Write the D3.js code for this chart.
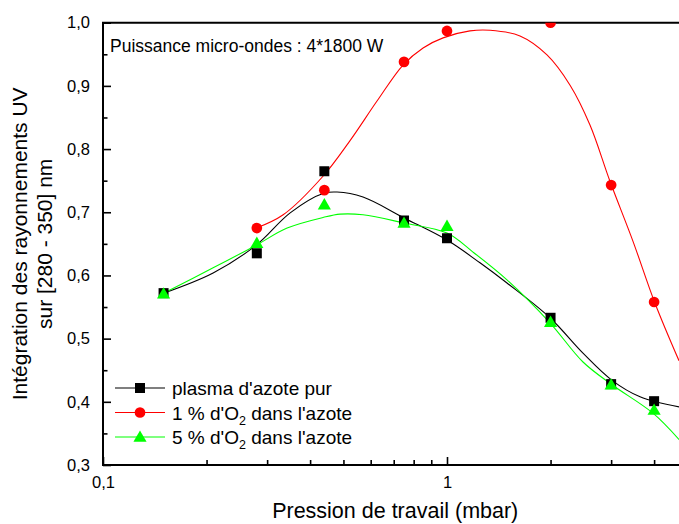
<!DOCTYPE html>
<html><head><meta charset="utf-8">
<script src="https://cdn.jsdelivr.net/npm/d3@7"></script>
<style>
html,body{margin:0;padding:0;background:#fff;}
text{font-family:"Liberation Sans",Arial,sans-serif;fill:#000;}
</style></head>
<body><svg id="c" width="679" height="524"></svg>
<script>
// ---- data ----
const pressure = [0.15, 0.28, 0.44, 0.75, 1.0, 2.0, 3.0, 4.0];
const pureN2 = [0.572, 0.635, 0.765, 0.687, 0.659, 0.533, 0.428, 0.401];
const o2_1pct_x = [0.28, 0.44, 0.75, 1.0, 2.0, 3.0, 4.0];
const o2_1pct = [0.675, 0.735, 0.938, 0.987, 1.0, 0.743, 0.558];
const o2_5pct = [0.571, 0.651, 0.712, 0.683, 0.678, 0.526, 0.427, 0.387];

// fitted curves
const fitBlackX = [0.15, 0.209, 0.279, 0.35, 0.438, 0.479, 0.57, 0.75, 1.0, 1.247, 1.494, 1.992, 2.485, 3.018, 3.64, 4.73];
const fitBlackY = [0.572, 0.604, 0.648, 0.699, 0.730, 0.732, 0.724, 0.691, 0.656, 0.620, 0.588, 0.533, 0.477, 0.434, 0.408, 0.392];
const fitRedX = [0.279, 0.334, 0.436, 0.522, 0.626, 0.745, 0.852, 0.974, 1.166, 1.334, 1.63, 1.953, 2.279, 2.604, 2.977, 3.473, 4.024, 4.725];
const fitRedY = [0.675, 0.696, 0.757, 0.813, 0.876, 0.933, 0.960, 0.976, 0.987, 0.988, 0.979, 0.949, 0.901, 0.838, 0.749, 0.654, 0.556, 0.465];
const fitGreenX = [0.15, 0.209, 0.279, 0.343, 0.438, 0.489, 0.57, 0.75, 1.0, 1.19, 1.494, 1.992, 2.485, 3.018, 3.97, 4.73];
const fitGreenY = [0.572, 0.612, 0.648, 0.675, 0.692, 0.697, 0.696, 0.683, 0.667, 0.637, 0.593, 0.525, 0.463, 0.427, 0.382, 0.340];

const yMajor = [0.3, 0.4, 0.5, 0.6, 0.7, 0.8, 0.9, 1.0];
const yMinor = [0.35, 0.45, 0.55, 0.65, 0.75, 0.85, 0.95];
const xMajor = [0.1, 1];
const xMinor = [0.2, 0.3, 0.4, 0.5, 0.6, 0.7, 0.8, 0.9, 2, 3, 4];

const seriesNames = ["plasma d'azote pur", "1 % d'O", "5 % d'O"];
const colors = ["#000000", "#ff0000", "#00ff00"];

// ---- layout ----
const L = 103, T = 22.7, B = 465, R = 103 + 344 * Math.log10(50);
const svg = d3.select("#c");
const x = d3.scaleLog().domain([0.1, 5]).range([L, R]);
const y = d3.scaleLinear().domain([0.3, 1.0]).range([B, T]);
const fmt = d => d3.format(".1f")(d).replace(".", ",");

svg.append("defs").append("clipPath").attr("id", "clip")
  .append("rect").attr("x", L).attr("y", T).attr("width", R - L).attr("height", B - T);

// axes
svg.append("g").attr("transform", `translate(${L},0)`)
  .call(d3.axisLeft(y).tickValues(yMajor).tickFormat(fmt).tickSizeInner(-8).tickSizeOuter(0).tickPadding(13));
svg.append("g").attr("transform", `translate(${L},0)`)
  .call(d3.axisLeft(y).tickValues(yMinor).tickFormat("").tickSizeInner(-4.5).tickSizeOuter(0));
svg.append("g").attr("transform", `translate(0,${B})`)
  .call(d3.axisBottom(x).tickValues(xMajor).tickFormat(d => d === 1 ? "1" : fmt(d)).tickSizeInner(-8).tickSizeOuter(0).tickPadding(11));
svg.append("g").attr("transform", `translate(0,${B})`)
  .call(d3.axisBottom(x).tickValues(xMinor).tickFormat("").tickSizeInner(-5).tickSizeOuter(0));
svg.selectAll(".domain").remove();
svg.selectAll(".tick line").attr("stroke", "#000").attr("stroke-width", 1.6);
svg.selectAll(".tick text").style("font-size", "16.5px").style("font-family", '"Liberation Sans",Arial,sans-serif');

// frame (left, bottom, top)
svg.append("path").attr("d", `M${R},${T}H${L}V${B}H${R}`).attr("fill", "none").attr("stroke", "#000").attr("stroke-width", 2);

// curves
const plot = svg.append("g").attr("clip-path", "url(#clip)");
const line = d3.line().x(d => x(d[0])).y(d => y(d[1])).curve(d3.curveCatmullRom.alpha(0.5));
const fits = [[fitBlackX, fitBlackY], [fitRedX, fitRedY], [fitGreenX, fitGreenY]];
fits.forEach((f, i) => {
  plot.append("path").attr("d", line(d3.zip(f[0], f[1]))).attr("fill", "none")
    .attr("stroke", colors[i]).attr("stroke-width", 1.1);
});

// markers
const sym = [d3.symbol().type(d3.symbolSquare).size(100), d3.symbol().type(d3.symbolCircle).size(90), d3.symbol().type(d3.symbolTriangle).size(75)];
const pts = [[pressure, pureN2], [o2_1pct_x, o2_1pct], [pressure, o2_5pct]];
pts.forEach((p, i) => {
  plot.selectAll(null).data(d3.zip(p[0], p[1])).enter().append("path")
    .attr("d", sym[i]()).attr("fill", colors[i])
    .attr("transform", d => `translate(${x(d[0])},${y(d[1]) + (i === 2 ? 1 : 0)})`);
});

// annotation
svg.append("text").attr("x", 110).attr("y", 52).style("font-size", "17.5px").text("Puissance micro-ondes : 4*1800 W");

// legend
const legY = [388, 412.5, 437];
seriesNames.forEach((n, i) => {
  const g = svg.append("g");
  g.append("line").attr("x1", 115).attr("x2", 165).attr("y1", legY[i]).attr("y2", legY[i]).attr("stroke", colors[i]).attr("stroke-width", 1.1);
  g.append("path").attr("d", sym[i]()).attr("fill", colors[i]).attr("transform", `translate(140,${legY[i] + (i === 2 ? 1 : 0)})`);
  const t = g.append("text").attr("x", 172).attr("y", legY[i] + 7).style("font-size", "19px");
  if (i === 0) t.text(n);
  else {
    t.append("tspan").text(n);
    t.append("tspan").attr("dy", 5).style("font-size", "12.5px").text("2");
    t.append("tspan").attr("dy", -5).text(" dans l'azote");
  }
});

// axis titles
svg.append("text").attr("x", (L + R) / 2).attr("y", 518).attr("text-anchor", "middle").style("font-size", "21.5px").text("Pression de travail (mbar)");
const yt = svg.append("text").attr("transform", `translate(0,${(T + B) / 2}) rotate(-90)`).attr("text-anchor", "middle").style("font-size", "21px");
yt.append("tspan").attr("x", 0).attr("y", 27).text("Intégration des rayonnements UV");
yt.append("tspan").attr("x", 0).attr("y", 52).text("sur [280 - 350] nm");
</script></body></html>
